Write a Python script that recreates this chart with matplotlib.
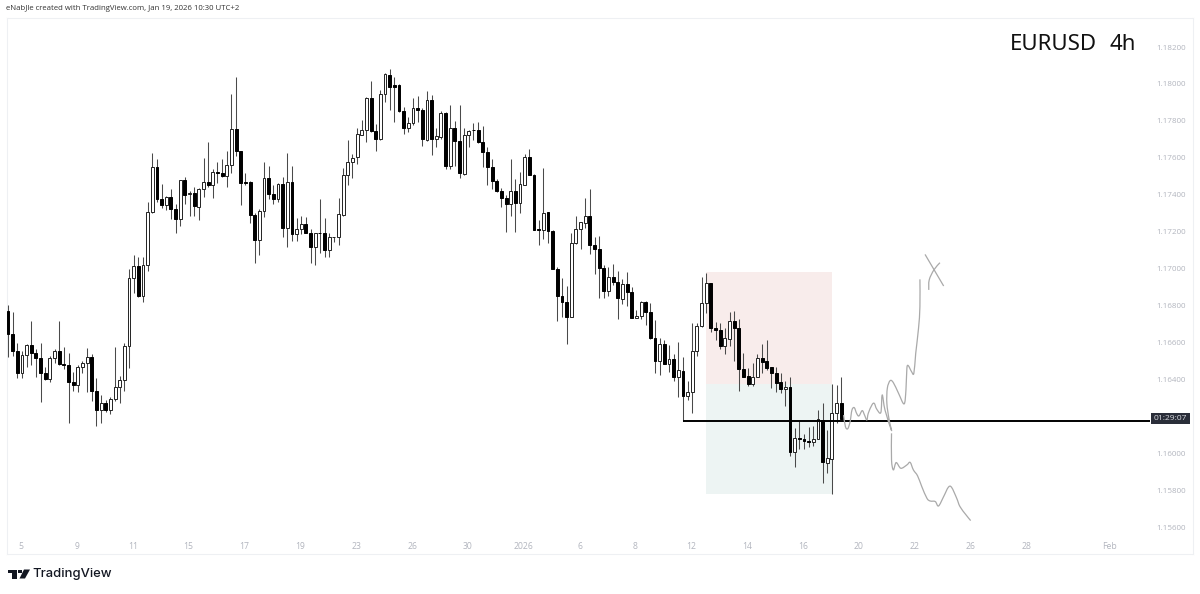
import matplotlib
matplotlib.use("Agg")
import matplotlib.pyplot as plt
from matplotlib.patches import Rectangle, Polygon, PathPatch
from matplotlib.path import Path

opens = [
1.16774,1.16647,1.16557,1.16438,1.16534,1.16590,1.16543,1.16516,1.16438,1.16404,
1.16516,1.16557,1.16483,1.16480,1.16388,1.16370,1.16471,1.16489,1.16521,1.16341,
1.16236,1.16276,1.16236,1.16294,1.16363,1.16399,1.16583,1.16952,1.17015,1.16853,
1.17018,1.17306,1.17549,1.17378,1.17346,1.17387,1.17326,1.17272,1.17479,1.17403,
1.17412,1.17337,1.17430,1.17472,1.17456,1.17524,1.17517,1.17503,1.17560,1.17755,
1.17636,1.17472,1.17472,1.17290,1.17156,1.17315,1.17494,1.17403,1.17380,1.17459,
1.17220,1.17470,1.17187,1.17214,1.17243,1.17196,1.17120,1.17194,1.17192,1.17102,
1.17171,1.17174,1.17292,1.17506,1.17580,1.17604,1.17726,1.17751,1.17924,1.17744,
1.17703,1.17946,1.18051,1.17995,1.17995,1.17852,1.17762,1.17787,1.17870,1.17860,
1.17697,1.17914,1.17701,1.17715,1.17842,1.17557,1.17760,1.17694,1.17513,1.17726,
1.17751,1.17750,1.17686,1.17632,1.17553,1.17477,1.17423,1.17382,1.17349,1.17420,
1.17355,1.17456,1.17607,1.17510,1.17214,1.17210,1.17308,1.17207,1.16999,1.16853,
1.16823,1.16741,1.17142,1.17214,1.17250,1.17286,1.17131,1.17109,1.17005,1.16882,
1.16954,1.16929,1.16839,1.16916,1.16877,1.16734,1.16747,1.16823,1.16767,1.16624,
1.16503,1.16592,1.16485,1.16511,1.16417,1.16449,1.16312,1.16336,1.16556,1.16691,
1.16814,1.16925,1.16682,1.16669,1.16583,1.16622,1.16720,1.16682,1.16460,1.16421,
1.16377,1.16417,1.16518,1.16500,1.16467,1.16435,1.16386,1.16348,1.16359,1.16010,
1.16085,1.16082,1.16069,1.16064,1.16082,1.16183,1.15952,1.15973,1.16222,1.16273,
]
highs = [
1.16804,1.16768,1.16597,1.16557,1.16593,1.16718,1.16565,1.16601,1.16471,1.16528,
1.16565,1.16718,1.16575,1.16543,1.16444,1.16480,1.16503,1.16570,1.16539,1.16408,
1.16317,1.16290,1.16308,1.16579,1.16420,1.16601,1.16997,1.17073,1.17062,1.17062,
1.17364,1.17625,1.17593,1.17459,1.17394,1.17430,1.17351,1.17479,1.17495,1.17423,
1.17445,1.17436,1.17598,1.17686,1.17539,1.17578,1.17593,1.17636,1.17946,1.18040,
1.17640,1.17521,1.17477,1.17304,1.17322,1.17580,1.17557,1.17454,1.17466,1.17495,
1.17625,1.17557,1.17274,1.17286,1.17283,1.17214,1.17196,1.17376,1.17274,1.17192,
1.17174,1.17382,1.17544,1.17697,1.17622,1.17760,1.17805,1.17928,1.18018,1.17784,
1.17968,1.18061,1.18080,1.18036,1.18000,1.17874,1.17820,1.17923,1.17935,1.17869,
1.17964,1.17941,1.17760,1.17856,1.17851,1.17888,1.17800,1.17885,1.17760,1.17751,
1.17787,1.17796,1.17773,1.17658,1.17593,1.17485,1.17436,1.17400,1.17593,1.17485,
1.17526,1.17622,1.17647,1.17513,1.17265,1.17544,1.17310,1.17210,1.17012,1.16949,
1.16907,1.17196,1.17286,1.17255,1.17382,1.17430,1.17170,1.17178,1.17021,1.17008,
1.17025,1.16990,1.16943,1.16983,1.16904,1.16778,1.16828,1.16828,1.16817,1.16723,
1.16624,1.16615,1.16588,1.16540,1.16606,1.16522,1.16395,1.16709,1.16709,1.16954,
1.16980,1.16925,1.16714,1.16709,1.16678,1.16769,1.16774,1.16727,1.16547,1.16462,
1.16489,1.16540,1.16594,1.16615,1.16471,1.16467,1.16435,1.16395,1.16413,1.16137,
1.16179,1.16107,1.16143,1.16150,1.16237,1.16273,1.16128,1.16377,1.16372,1.16413,
]
lows = [
1.16525,1.16528,1.16408,1.16411,1.16467,1.16480,1.16417,1.16278,1.16399,1.16390,
1.16489,1.16480,1.16456,1.16168,1.16341,1.16334,1.16438,1.16336,1.16287,1.16152,
1.16168,1.16227,1.16215,1.16287,1.16276,1.16337,1.16462,1.16871,1.16849,1.16822,
1.16990,1.17304,1.17364,1.17328,1.17319,1.17268,1.17192,1.17232,1.17351,1.17286,
1.17286,1.17265,1.17387,1.17445,1.17384,1.17466,1.17499,1.17445,1.17517,1.17611,
1.17346,1.17454,1.17247,1.17030,1.17075,1.17283,1.17376,1.17351,1.17364,1.17171,
1.17120,1.17153,1.17153,1.17189,1.17192,1.17034,1.17023,1.17084,1.17066,1.17063,
1.17147,1.17129,1.17288,1.17454,1.17490,1.17567,1.17726,1.17686,1.17742,1.17640,
1.17697,1.17905,1.17860,1.17795,1.17849,1.17730,1.17742,1.17777,1.17796,1.17665,
1.17692,1.17614,1.17661,1.17701,1.17542,1.17542,1.17557,1.17492,1.17506,1.17661,
1.17697,1.17683,1.17553,1.17452,1.17434,1.17416,1.17333,1.17201,1.17286,1.17201,
1.17304,1.17452,1.17506,1.17210,1.17129,1.17160,1.17142,1.16999,1.16720,1.16741,
1.16594,1.16738,1.17135,1.17109,1.17221,1.17080,1.16972,1.16841,1.16841,1.16853,
1.16913,1.16727,1.16810,1.16799,1.16732,1.16732,1.16727,1.16696,1.16622,1.16439,
1.16428,1.16484,1.16444,1.16395,1.16309,1.16179,1.16291,1.16219,1.16529,1.16687,
1.16760,1.16660,1.16615,1.16565,1.16540,1.16583,1.16503,1.16341,1.16417,1.16366,
1.16366,1.16413,1.16435,1.16450,1.16354,1.16336,1.16330,1.16258,1.15988,1.15930,
1.16024,1.16024,1.16038,1.16042,1.16078,1.15844,1.15894,1.15782,1.16165,1.16186,
]
closes = [
1.16647,1.16557,1.16438,1.16534,1.16590,1.16543,1.16516,1.16438,1.16404,1.16516,
1.16557,1.16483,1.16480,1.16388,1.16370,1.16471,1.16489,1.16521,1.16341,1.16236,
1.16276,1.16236,1.16298,1.16363,1.16399,1.16583,1.16952,1.17015,1.16853,1.17019,
1.17308,1.17549,1.17378,1.17346,1.17387,1.17326,1.17272,1.17479,1.17402,1.17412,
1.17340,1.17432,1.17472,1.17456,1.17524,1.17517,1.17503,1.17560,1.17755,1.17636,
1.17466,1.17466,1.17290,1.17156,1.17315,1.17494,1.17403,1.17380,1.17459,1.17220,
1.17470,1.17187,1.17214,1.17243,1.17196,1.17120,1.17192,1.17192,1.17102,1.17171,
1.17174,1.17297,1.17506,1.17580,1.17602,1.17730,1.17751,1.17924,1.17744,1.17703,
1.17946,1.18054,1.17986,1.17986,1.17852,1.17764,1.17787,1.17872,1.17860,1.17701,
1.17914,1.17701,1.17719,1.17842,1.17557,1.17760,1.17694,1.17517,1.17726,1.17748,
1.17750,1.17686,1.17632,1.17553,1.17477,1.17420,1.17382,1.17351,1.17420,1.17355,
1.17459,1.17607,1.17508,1.17210,1.17210,1.17304,1.17203,1.16999,1.16853,1.16823,
1.16741,1.17142,1.17214,1.17252,1.17286,1.17131,1.17109,1.17005,1.16882,1.16954,
1.16929,1.16841,1.16916,1.16877,1.16734,1.16747,1.16823,1.16767,1.16624,1.16503,
1.16592,1.16485,1.16511,1.16417,1.16453,1.16314,1.16336,1.16558,1.16691,1.16817,
1.16925,1.16682,1.16668,1.16583,1.16624,1.16720,1.16682,1.16460,1.16417,1.16377,
1.16417,1.16516,1.16498,1.16462,1.16435,1.16385,1.16348,1.16359,1.16011,1.16085,
1.16080,1.16069,1.16065,1.16082,1.16186,1.15955,1.15975,1.16222,1.16273,1.16190,
]

price_ticks = [1.156, 1.158, 1.160, 1.164, 1.166, 1.168, 1.170, 1.172, 1.174,
               1.176, 1.178, 1.180, 1.182]
date_pos = [2.8, 14.8, 26.8, 38.8, 50.8, 62.8, 74.8, 86.8, 98.8, 110.8, 122.8,
            134.8, 146.8, 158.8, 170.8, 182.8, 194.8, 206.8, 218.8, 236.7]
date_labels = ["5", "9", "11", "15", "17", "19", "23", "26", "30", "2026", "6",
               "8", "12", "14", "16", "20", "22", "26", "28", "Feb"]

# position tool (bar index, price)
tool_start, tool_end = 150, 177
tool_top, tool_entry, tool_bottom = 1.16983, 1.16377, 1.15782
# current price line
level_price = 1.16177
level_start, level_end = 145, 245.3
# freehand projections (bar index, price)
up_x = [179.5,179.9,180.4,180.9,181.3,181.8,182.3,182.8,183.5,184,184.5,184.8,185.6,186.1,186.6,
        187.5,187.8,188.4,189.8,189.3,188.8,188.9,189.5,190.2,191.3,192.5,192.9,193.1,193.4,194.1,
        194.6,195,195.6,195.9,195.9]
up_y = [1.16209,1.16146,1.16135,1.16173,1.16236,1.16249,1.16218,1.16204,1.16233,1.16209,1.16182,
        1.16218,1.16264,1.16272,1.16242,1.16222,1.16318,1.16236,1.16125,1.16182,1.16272,1.16354,
        1.16395,1.16384,1.16327,1.16269,1.16345,1.16462,1.16476,1.16444,1.16435,1.16543,1.16678,
        1.16795,1.16943]
down_x = [189.8,189.8,190.2,190.8,191.8,193.1,193.8,194.5,195.4,196.3,197.4,198.1,199.2,199.9,
          201,202,202.7,203.8,204.5,205.8,206.8]
down_y = [1.16110,1.15966,1.15912,1.15952,1.15921,1.15939,1.15953,1.15912,1.15880,1.15822,1.15759,
          1.15744,1.15741,1.15717,1.15768,1.15818,1.15818,1.15759,1.15714,1.15669,1.15638]
cross1_x, cross1_y = [197, 201], [1.17078, 1.16907]
cross2_x = [200.2, 198.9, 197.9, 197.8]
cross2_y = [1.17033, 1.16994, 1.16940, 1.16886]

W, H = 1200, 594
fig = plt.figure(figsize=(W / 100, H / 100), dpi=100, facecolor="white")
L, R, T, B = 7, 1193, 18, 554
ax = fig.add_axes([L / W, 1 - B / H, (R - L) / W, (B - T) / H])
ax.set_xlim((L - 8) / 4.655, (R - 8) / 4.655)
px_per_unit = 18485
ax.set_ylim(1.182 - (B - 47) / px_per_unit, 1.182 + (47 - T) / px_per_unit)
for s in ax.spines.values():
    s.set_color("#eef0f3")
    s.set_linewidth(0.8)

ax.add_patch(Rectangle((tool_start, tool_entry), tool_end - tool_start, tool_top - tool_entry,
                       facecolor="#f8eceb", edgecolor="none", zorder=1))
ax.add_patch(Rectangle((tool_start, tool_bottom), tool_end - tool_start, tool_entry - tool_bottom,
                       facecolor="#edf4f3", edgecolor="none", zorder=1))

xs = list(range(len(opens)))
ax.vlines(xs, lows, highs, color="#4a4a4a", linewidth=0.75, zorder=3)
for i, (o, c) in enumerate(zip(opens, closes)):
    black = c <= o
    lo, hi = min(o, c), max(o, c)
    ax.bar(i, hi - lo, bottom=lo, width=0.62,
           facecolor="black" if black else "white",
           edgecolor="black" if black else "#222222", linewidth=0.7, zorder=4)

ax.hlines(level_price, level_start, level_end, color="black", linewidth=1.4, zorder=5)


def smooth_stroke(px, py, k=6.0):
    """Bezier curve passing through the read points (pen stroke look)."""
    verts = [(px[0], py[0])]
    codes = [Path.MOVETO]
    n = len(px)
    for i in range(n - 1):
        a, b = max(i - 1, 0), min(i + 2, n - 1)
        verts.append((px[i] + (px[i + 1] - px[a]) / k, py[i] + (py[i + 1] - py[a]) / k))
        verts.append((px[i + 1] - (px[b] - px[i]) / k, py[i + 1] - (py[b] - py[i]) / k))
        verts.append((px[i + 1], py[i + 1]))
        codes += [Path.CURVE4] * 3
    ax.add_patch(PathPatch(Path(verts, codes), facecolor="none", edgecolor="#a9a9a9",
                           linewidth=0.9, zorder=6, joinstyle="round"))


smooth_stroke(up_x, up_y)
smooth_stroke(down_x, down_y)
smooth_stroke(cross1_x, cross1_y)
smooth_stroke(cross2_x, cross2_y)

axis_color = "#b2b5be"
ax.yaxis.tick_right()
ax.set_yticks(price_ticks)
ax.set_yticklabels([f"{p:.5f}" for p in price_ticks], fontname="Open Sans",
                   fontsize=5.8, color=axis_color, ha="left")
ax.tick_params(axis="y", length=0, pad=-26.5)
ax.set_xticks(date_pos)
ax.set_xticklabels(date_labels, fontname="Open Sans", fontsize=6.2, color=axis_color)
ax.tick_params(axis="x", length=0, pad=-8.4)


def fx(x): return x / W
def fy(y): return 1 - y / H


fig.text(fx(6), fy(9), "eNabJle created with TradingView.com, Jan 19, 2026 10:30 UTC+2",
         fontname="Open Sans", fontsize=5.6, color="#333333", va="center", ha="left")
fig.text(fx(1010), fy(45), "EURUSD", fontname="Noto Sans", fontsize=16, color="#111111",
         va="center", ha="left")
fig.text(fx(1109), fy(45), "4h", fontname="Noto Sans", fontsize=16, color="#111111",
         va="center", ha="left")

fig.add_artist(Rectangle((fx(1151), fy(424)), 39 / W, 11 / H, transform=fig.transFigure,
                         facecolor="#2a2e39", edgecolor="none", zorder=7))
fig.text(fx(1170.5), fy(418.4), "01:29:07", fontname="Open Sans", fontsize=6.1, color="#d8dae0",
         ha="center", va="center", zorder=8)

logo = "#131722"
t_pts = [(8, 569.5), (17, 569.5), (17, 578.5), (12, 578.5), (12, 573), (8, 573)]
s_pts = [(24, 569.5), (30, 569.5), (25, 578.5), (19.5, 578.5)]
fig.add_artist(Polygon([(fx(x), fy(y)) for x, y in t_pts], transform=fig.transFigure,
                       facecolor=logo, edgecolor="none"))
fig.add_artist(Polygon([(fx(x), fy(y)) for x, y in s_pts], transform=fig.transFigure,
                       facecolor=logo, edgecolor="none"))
fig.add_artist(Rectangle((fx(18.2), fy(573.2)), 3.4 / W, 3.4 / H, transform=fig.transFigure,
                         facecolor=logo, edgecolor="none"))
fig.text(fx(32.5), fy(574.5), "TradingView", fontname="Inter", fontweight="medium", fontsize=9.4,
         color=logo, va="center", ha="left")

fig.savefig("out.png", dpi=100)
